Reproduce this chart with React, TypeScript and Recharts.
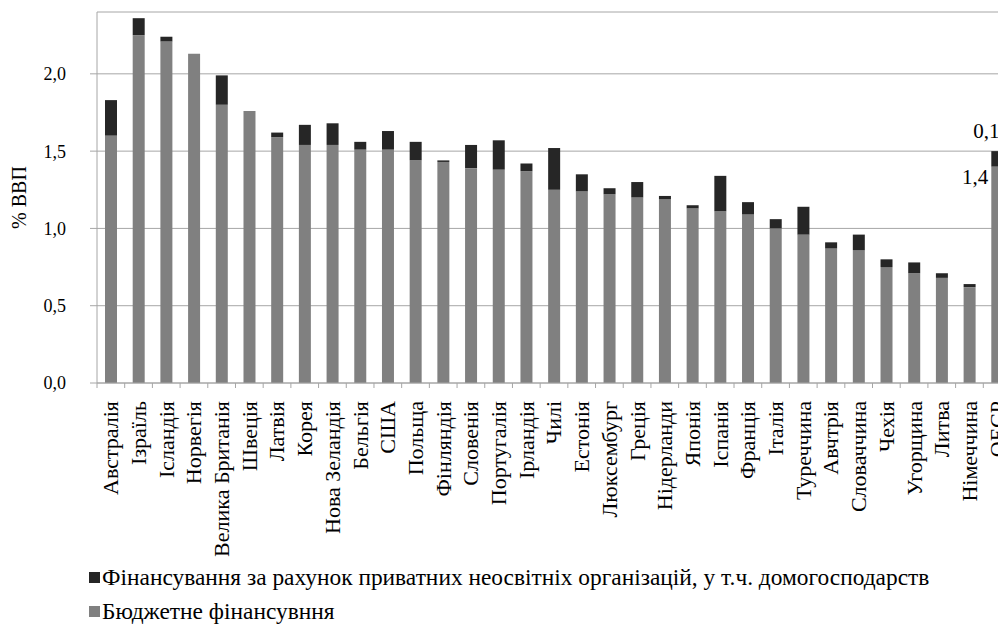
import React from 'react';
import { BarChart, Bar, XAxis, YAxis, CartesianGrid, Legend, LabelList } from 'recharts';

const categories = [
  'Австралія', 'Ізраїль', 'Ісландія', 'Норвегія', 'Велика Британія', 'Швеція', 'Латвія', 'Корея',
  'Нова Зеландія', 'Бельгія', 'США', 'Польща', 'Фінляндія', 'Словенія', 'Португалія', 'Ірландія',
  'Чилі', 'Естонія', 'Люксембург', 'Греція', 'Нідерланди', 'Японія', 'Іспанія', 'Франція', 'Італія',
  'Туреччина', 'Авчтрія', 'Словаччина', 'Чехія', 'Угорщина', 'Литва', 'Німеччина', 'ОЕСР',
];

const budgetFunding = [
  1.60, 2.25, 2.21, 2.13, 1.80, 1.76, 1.59, 1.54, 1.54, 1.51, 1.51, 1.44, 1.43, 1.39, 1.38, 1.37,
  1.25, 1.24, 1.22, 1.20, 1.19, 1.13, 1.11, 1.09, 1.00, 0.96, 0.87, 0.86, 0.75, 0.71, 0.68, 0.62, 1.4,
];

const privateFunding = [
  0.23, 0.11, 0.03, 0.0, 0.19, 0.0, 0.03, 0.13, 0.14, 0.05, 0.12, 0.12, 0.01, 0.15, 0.19, 0.05,
  0.27, 0.11, 0.04, 0.10, 0.02, 0.02, 0.23, 0.08, 0.06, 0.18, 0.04, 0.10, 0.05, 0.07, 0.03, 0.02, 0.1,
];

// Only the OECD bar carries value labels
const labelledCategories = ['ОЕСР'];

const yTicks = [0, 0.5, 1.0, 1.5, 2.0];
const yDomain = [0, 2.4];
const yAxisTitle = '% ВВП';
const privateName = 'Фінансування за рахунок приватних неосвітніх організацій, у т.ч. домогосподарств';
const budgetName = 'Бюджетне фінансувння';

const fmt = (v: number) => Number(v).toFixed(1).replace('.', ',');

const data = categories.map((name, i) => {
  const labelled = labelledCategories.includes(name);
  return {
    name,
    budget: budgetFunding[i],
    priv: privateFunding[i],
    budgetLabel: labelled ? fmt(budgetFunding[i]) : '',
    privLabel: labelled ? fmt(privateFunding[i]) : '',
  };
});

const FONT = 'Liberation Serif';
const GRAY = '#808080';
const DARK = '#262626';
const LINE = '#a6a6a6';

const CHART_W = 1020;
const CHART_H = 624;
const MARGIN = { top: 12, right: 9, left: 0, bottom: 0 };
const Y_W = 97;
const PLOT_W = CHART_W - MARGIN.left - MARGIN.right - Y_W;
const HALF_BAND = PLOT_W / categories.length / 2;

function CategoryTick(props: any) {
  const { x, y, payload } = props;
  const ty = y + 18;
  return (
    <g>
      <line x1={x - HALF_BAND} y1={y} x2={x - HALF_BAND} y2={y + 5} stroke={LINE} />
      <text
        x={x}
        y={ty}
        transform={`rotate(-90 ${x} ${ty})`}
        textAnchor="end"
        dy="0.34em"
        fontSize={22}
        fontFamily={FONT}
        fill="#000"
      >
        {payload.value}
      </text>
    </g>
  );
}

function BudgetLabel(props: any) {
  const { x, y, value } = props;
  if (!value) return null;
  return (
    <text x={Number(x) - 3} y={Number(y) + 10} dy="0.34em" textAnchor="end" fontSize={21} fontFamily={FONT} fill="#000">
      {value}
    </text>
  );
}

function PrivLabel(props: any) {
  const { x, y, value } = props;
  if (!value) return null;
  const w = Number(props.width ?? props.viewBox?.width ?? 12);
  return (
    <text x={Number(x) + w / 2 - 11} y={Number(y) - 20} dy="0.34em" textAnchor="middle" fontSize={21} fontFamily={FONT} fill="#000">
      {value}
    </text>
  );
}

function LegendContent() {
  const rows = [
    { name: privateName, color: DARK, top: 0 },
    { name: budgetName, color: GRAY, top: 34 },
  ];
  return (
    <div style={{ position: 'relative', width: 998, height: 69, fontFamily: FONT, fontSize: 23.4, color: '#000' }}>
      {rows.map((r) => (
        <div key={r.name} style={{ position: 'absolute', left: 89, top: r.top, height: 26, display: 'flex', alignItems: 'center', whiteSpace: 'nowrap' }}>
          <span style={{ display: 'inline-block', width: 11, height: 11, background: r.color, marginRight: 2 }} />
          <span>{r.name}</span>
        </div>
      ))}
    </div>
  );
}

export default function App() {
  return (
    <div style={{ position: 'fixed', left: 0, top: 0, width: 998, height: 624, overflow: 'hidden', background: '#fff' }}>
      <BarChart width={CHART_W} height={CHART_H} data={data} margin={MARGIN} barSize={12}>
        <CartesianGrid vertical={false} stroke={LINE} />
        <XAxis
          dataKey="name"
          interval={0}
          height={241}
          tickLine={false}
          tickSize={0}
          tickMargin={0}
          axisLine={{ stroke: LINE }}
          tick={<CategoryTick />}
        />
        <YAxis
          width={Y_W}
          domain={yDomain}
          ticks={yTicks}
          allowDataOverflow
          tickFormatter={fmt}
          tickSize={7}
          tickMargin={24}
          tickLine={{ stroke: LINE }}
          axisLine={{ stroke: LINE }}
          tick={{ fontSize: 18, fontFamily: FONT, fill: '#000' }}
          label={(p: any) => {
            const vb = p.viewBox || {};
            const cy = (vb.y || 0) + (vb.height || 0) / 2;
            return (
              <text x={19.5} y={cy} transform={`rotate(-90 19.5 ${cy})`} textAnchor="middle" dy="0.34em" fontSize={20} fontFamily={FONT} fill="#000">
                {yAxisTitle}
              </text>
            );
          }}
        />
        <Legend
          layout="horizontal"
          verticalAlign="middle"
          align="center"
          wrapperStyle={{ left: 0, top: 564, width: 998, height: 69 }}
          content={<LegendContent />}
        />
        <Bar dataKey="budget" stackId="a" fill={GRAY} name={budgetName} isAnimationActive={false}>
          <LabelList dataKey="budgetLabel" content={<BudgetLabel />} />
        </Bar>
        <Bar dataKey="priv" stackId="a" fill={DARK} name={privateName} isAnimationActive={false}>
          <LabelList dataKey="privLabel" content={<PrivLabel />} />
        </Bar>
      </BarChart>
    </div>
  );
}
